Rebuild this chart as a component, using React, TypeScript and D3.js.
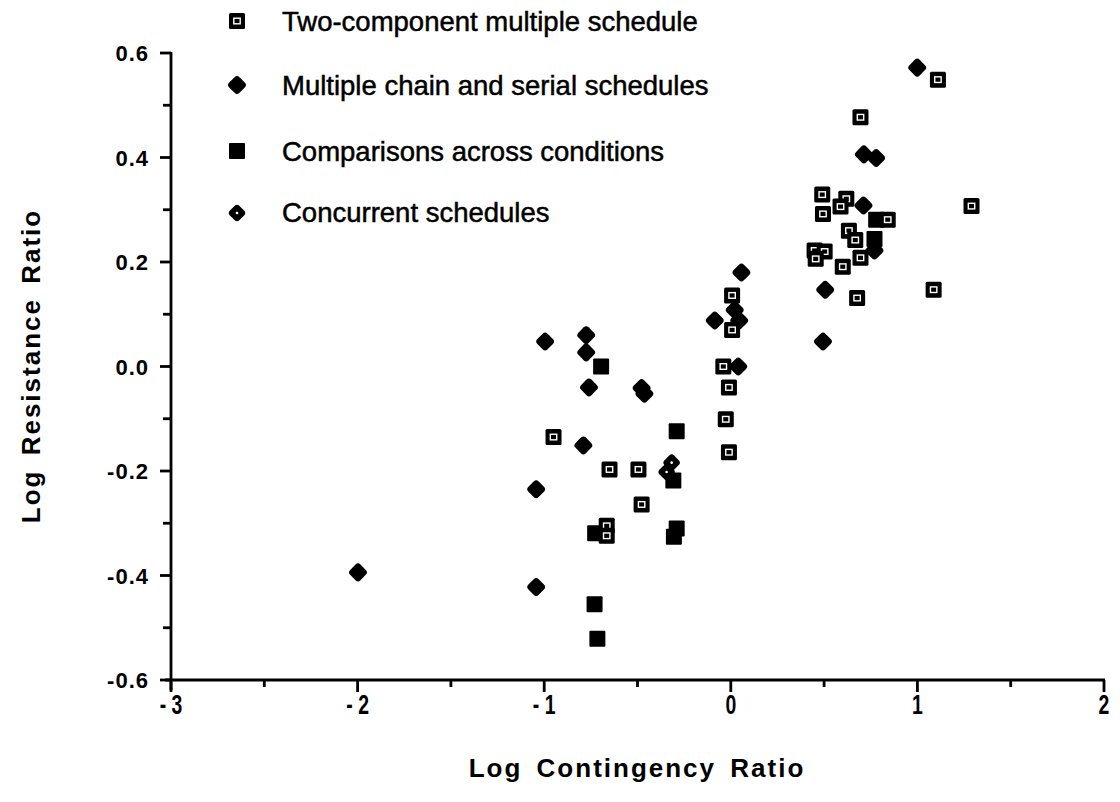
import React from "react";
import * as d3 from "d3";

// Two-component multiple schedule (open squares)
const twoComponent: [number, number][] = [
  [1.11, 0.549], [0.695, 0.477], [0.49, 0.329], [0.619, 0.321], [0.588, 0.306],
  [0.494, 0.292], [0.841, 0.281], [0.633, 0.26], [0.667, 0.242], [0.695, 0.208],
  [0.449, 0.222], [0.503, 0.22], [0.455, 0.206], [0.6, 0.191], [0.677, 0.131],
  [1.087, 0.147], [1.29, 0.307],
  [0.007, 0.136], [0.007, 0.07], [-0.04, 0.0], [-0.01, -0.04], [-0.027, -0.101],
  [-0.01, -0.164], [-0.95, -0.135], [-0.65, -0.197], [-0.495, -0.197],
  [-0.478, -0.264], [-0.665, -0.305], [-0.665, -0.324],
];

// Multiple chain and serial schedules (diamonds)
const multipleChain: [number, number][] = [
  [0.999, 0.572], [0.713, 0.406], [0.779, 0.399], [0.711, 0.308], [0.77, 0.222],
  [0.506, 0.147], [0.494, 0.048], [0.057, 0.18], [0.021, 0.108], [-0.086, 0.088],
  [0.045, 0.088], [0.04, 0.0], [-0.995, 0.048], [-0.775, 0.06], [-0.775, 0.027],
  [-0.76, -0.04], [-0.478, -0.041], [-0.463, -0.052], [-0.79, -0.151],
  [-1.043, -0.235], [-1.043, -0.422], [-1.998, -0.394],
];

// Comparisons across conditions (filled squares)
const comparisons: [number, number][] = [
  [0.779, 0.281], [0.77, 0.244], [-0.695, 0.0], [-0.29, -0.124], [-0.308, -0.218],
  [-0.727, -0.319], [-0.29, -0.31], [-0.305, -0.326], [-0.73, -0.455], [-0.715, -0.521],
];

// Concurrent schedules (diamonds with dot)
const concurrent: [number, number][] = [
  [-0.317, -0.184], [-0.344, -0.202],
];

const xTicks = [-3, -2, -1, 0, 1, 2];
const xTickLabels = ["- 3", "- 2", "- 1", "0", "1", "2"];
const xMinorTicks = [-2.5, -1.5, -0.5, 0.5, 1.5];
const yTicks = [0.6, 0.4, 0.2, 0.0, -0.2, -0.4, -0.6];
const yTickLabels = ["0.6", "0.4", "0.2", "0.0", "-0.2", "-0.4", "-0.6"];
const yMinorTicks = [0.5, 0.3, 0.1, -0.1, -0.3, -0.5];
const legendLabels = [
  "Two-component multiple schedule",
  "Multiple chain and serial schedules",
  "Comparisons across conditions",
  "Concurrent schedules",
];

const W = 1120;
const H = 802;

const x = d3.scaleLinear().domain([-3, 2]).range([171, 1104]);
const y = d3.scaleLinear().domain([-0.6, 0.6]).range([680, 53]);

const OpenSquare = ({ cx, cy }: { cx: number; cy: number }) => (
  <g>
    <rect x={cx - 8} y={cy - 8} width={16} height={16} fill="#000" rx={1.5} />
    <rect x={cx - 3.2} y={cy - 2.8} width={6.4} height={5.6} fill="none" stroke="#fff" strokeWidth={1.4} />
  </g>
);

const FilledSquare = ({ cx, cy }: { cx: number; cy: number }) => (
  <rect x={cx - 8} y={cy - 8} width={16} height={16} fill="#000" rx={1} />
);

const Diamond = ({ cx, cy, s = 14.5 }: { cx: number; cy: number; s?: number }) => (
  <rect
    x={-s / 2}
    y={-s / 2}
    width={s}
    height={s}
    rx={3.5}
    fill="#000"
    transform={`translate(${cx},${cy}) rotate(45)`}
  />
);

const Concurrent = ({ cx, cy }: { cx: number; cy: number }) => (
  <g>
    <Diamond cx={cx} cy={cy} s={13.5} />
    <circle cx={cx} cy={cy} r={1.3} fill="#fff" />
  </g>
);

export default function App() {
  const font = "'Liberation Sans', Arial, Helvetica, sans-serif";
  const legendMarkerX = 237;
  const legendRows = [
    { cy: 21, by: 31 },
    { cy: 85, by: 95 },
    { cy: 151, by: 161 },
    { cy: 213, by: 222 },
  ];
  return (
    <svg
      width={W}
      height={H}
      style={{ position: "absolute", left: 0, top: 0, background: "#fff" }}
      fontFamily={font}
    >
      <rect width={W} height={H} fill="#fff" />
      {/* Legend */}
      <OpenSquare cx={legendMarkerX} cy={legendRows[0].cy} />
      <Diamond cx={legendMarkerX} cy={legendRows[1].cy} />
      <FilledSquare cx={legendMarkerX} cy={legendRows[2].cy} />
      <Concurrent cx={legendMarkerX} cy={legendRows[3].cy} />
      {legendLabels.map((t, i) => (
        <text
          key={t}
          x={282}
          y={legendRows[i].by}
          fontSize={27.5}
          fill="#000"
          stroke="#000"
          strokeWidth={0.5}
        >
          {t}
        </text>
      ))}

      {/* Axes */}
      <line x1={x(-3) - 6} x2={x(2) + 1} y1={y(-0.6)} y2={y(-0.6)} stroke="#000" strokeWidth={2.8} />
      <line x1={x(-3)} x2={x(-3)} y1={y(0.6) - 1} y2={y(-0.6) + 10} stroke="#000" strokeWidth={2.8} />
      {xTicks.map((t) => (
        <line key={t} x1={x(t)} x2={x(t)} y1={y(-0.6)} y2={y(-0.6) + 12} stroke="#000" strokeWidth={2.8} />
      ))}
      {xMinorTicks.map((t) => (
        <line key={t} x1={x(t)} x2={x(t)} y1={y(-0.6)} y2={y(-0.6) + 7} stroke="#000" strokeWidth={2.8} />
      ))}
      {yTicks.map((t) => (
        <line key={t} x1={x(-3) - 11} x2={x(-3)} y1={y(t)} y2={y(t)} stroke="#000" strokeWidth={2.8} />
      ))}
      {yMinorTicks.map((t) => (
        <line key={t} x1={x(-3) - 8} x2={x(-3)} y1={y(t)} y2={y(t)} stroke="#000" strokeWidth={2.8} />
      ))}
      {xTicks.map((t, i) => (
        <text
          key={t}
          transform={`translate(${x(t)},${y(-0.6) + 34}) scale(0.72,1)`}
          fontSize={27}
          fontWeight="bold"
          textAnchor="middle"
        >
          {xTickLabels[i]}
        </text>
      ))}
      {yTicks.map((t, i) => (
        <text
          key={t}
          x={149}
          y={y(t) + 8}
          fontSize={22}
          fontWeight="bold"
          textAnchor="end"
          letterSpacing={1}
        >
          {yTickLabels[i]}
        </text>
      ))}
      {/* Axis titles */}
      <text
        x={637}
        y={777}
        fontSize={26}
        fontWeight="bold"
        textAnchor="middle"
        letterSpacing={2}
        wordSpacing={5}
      >
        Log Contingency Ratio
      </text>
      <text
        transform={`translate(40,${366}) rotate(-90)`}
        fontSize={26}
        fontWeight="bold"
        textAnchor="middle"
        letterSpacing={2}
        wordSpacing={5}
      >
        Log Resistance Ratio
      </text>

      {/* Data */}
      {multipleChain.map((d, i) => (
        <Diamond key={"m" + i} cx={x(d[0])} cy={y(d[1])} />
      ))}
      {comparisons.map((d, i) => (
        <FilledSquare key={"c" + i} cx={x(d[0])} cy={y(d[1])} />
      ))}
      {twoComponent.map((d, i) => (
        <OpenSquare key={"t" + i} cx={x(d[0])} cy={y(d[1])} />
      ))}
      {concurrent.map((d, i) => (
        <Concurrent key={"k" + i} cx={x(d[0])} cy={y(d[1])} />
      ))}
    </svg>
  );
}
